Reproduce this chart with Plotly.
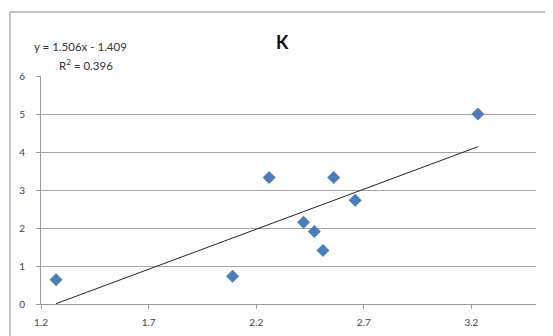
import numpy as np
import plotly.graph_objects as go

x_vals = [1.27, 2.09, 2.26, 2.56, 2.66, 2.42, 2.47, 2.51, 3.23]
y_vals = [0.64, 0.73, 3.33, 3.33, 2.73, 2.15, 1.91, 1.41, 5.00]
x_ticks = [1.2, 1.7, 2.2, 2.7, 3.2]
y_ticks = [0, 1, 2, 3, 4, 5, 6]
title_text = "K"
eq_text = "y = 1.506x - 1.409"
r2_text = "R<sup>2</sup> = 0.396"

slope, intercept = np.polyfit(x_vals, y_vals, 1)
tx = [min(x_vals), max(x_vals)]
ty = [slope * v + intercept for v in tx]

fig = go.Figure()
fig.add_trace(go.Scatter(x=tx, y=ty, mode="lines",
                         line=dict(color="#222222", width=1), hoverinfo="skip"))
fig.add_trace(go.Scatter(x=x_vals, y=y_vals, mode="markers",
                         marker=dict(symbol="diamond", size=10, color="#4a7ebb")))

OFF = 8  # page body margin
W, H = 553 - OFF, 336 - OFF
ml, mr, mt, mb = 41 - OFF, 17, 76 - OFF, 32
pw, ph = W - ml - mr, H - mt - mb


def px(xp):
    return (xp - OFF - ml) / pw


def py(yp):
    return 1 - (yp - OFF - mt) / ph


fig.update_layout(
    width=W, height=H,
    margin=dict(l=ml, r=mr, t=mt, b=mb, autoexpand=False),
    paper_bgcolor="white", plot_bgcolor="white",
    showlegend=False,
    font=dict(family="Lato, Open Sans, sans-serif", size=10, color="#444444"),
    xaxis=dict(range=[1.2, 3.5], tickvals=x_ticks, ticktext=[str(v) for v in x_ticks],
               showgrid=False, zeroline=False, showline=True, linecolor="#999999",
               ticks="outside", ticklen=4, tickcolor="#999999", ticklabelstandoff=5,
               automargin=False),
    yaxis=dict(range=[0, 6], tickvals=y_ticks, showgrid=True, gridcolor="#a6a6a6",
               gridwidth=1, zeroline=False, showline=True, linecolor="#999999",
               ticks="outside", ticklen=4, tickcolor="#999999", ticklabelstandoff=9,
               automargin=False),
)

fig.add_shape(type="rect", xref="paper", yref="paper",
              x0=px(10), x1=px(560), y0=py(345), y1=py(12),
              line=dict(color="#888888", width=1), layer="below")

fig.add_annotation(text=f"<b>{title_text}</b>", xref="paper", yref="paper",
                   x=px(282), y=py(42), showarrow=False,
                   font=dict(size=18, color="#111111"), xanchor="center", yanchor="middle")
fig.add_annotation(text=eq_text, xref="paper", yref="paper",
                   x=px(32), y=py(46), showarrow=False,
                   font=dict(size=11.5, color="#333333"), xanchor="left", yanchor="middle")
fig.add_annotation(text=r2_text, xref="paper", yref="paper",
                   x=px(57), y=py(64), showarrow=False,
                   font=dict(size=11.5, color="#333333"), xanchor="left", yanchor="middle")

fig.write_html("out.html")
